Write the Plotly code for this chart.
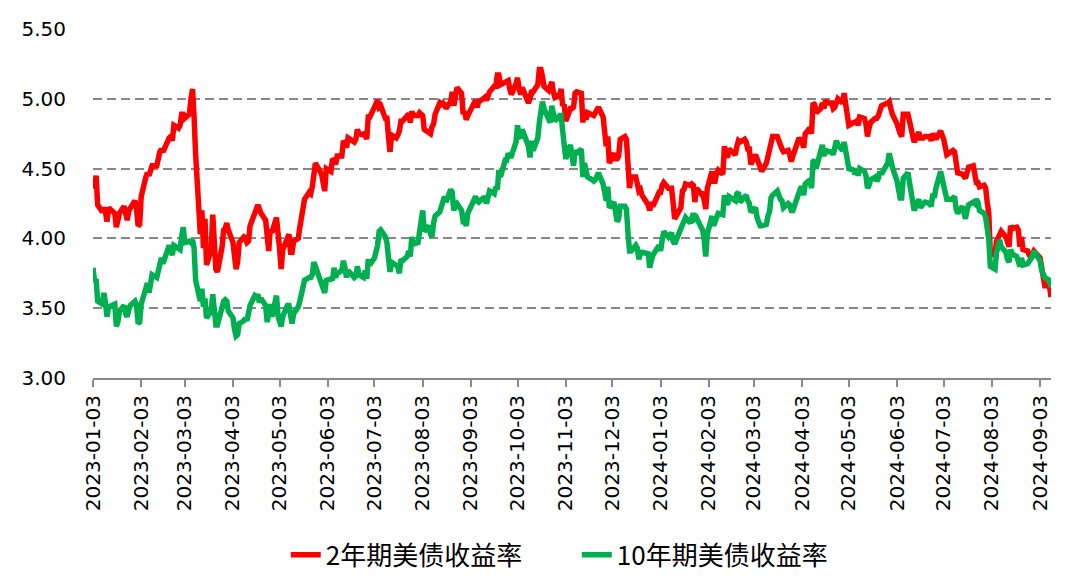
import pandas as pd
import plotly.graph_objects as go

N = None  # market holiday / no observation

# US Treasury yields (%), one row per trading week (Mon..Fri), first week starts Mon 2023-01-02
yield_2y = [
    N, 4.40, 4.36, 4.45, 4.24,
    4.19, 4.22, 4.19, 4.12, 4.22,
    N, 4.18, 4.08, 4.12, 4.18,
    4.23, 4.19, 4.13, 4.20, 4.22,
    4.27, 4.21, 4.09, 4.10, 4.30,
    4.44, 4.47, 4.45, 4.49, 4.52,
    4.52, 4.60, 4.62, 4.64, 4.62,
    N, 4.72, 4.73, 4.70, 4.81,
    4.79, 4.81, 4.89, 4.89, 4.86,
    4.89, 5.00, 5.07, 4.87, 4.60,
    4.03, 4.20, 3.93, 4.14, 3.81,
    3.92, 4.17, 3.94, 3.78, 3.76,
    3.94, 4.06, 4.07, 4.11, 4.06,
    3.97, 3.84, 3.78, 3.83, 3.97,
    4.01, 4.00, 3.97, 3.98, 4.09,
    4.19, 4.20, 4.24, 4.21, 4.18,
    4.13, 3.95, 3.91, 4.07, 4.04,
    4.15, 3.97, 3.92, 3.78, 3.92,
    4.00, 4.03, 3.90, 3.90, 3.98,
    4.00, 4.08, 4.16, 4.26, 4.28,
    4.33, 4.32, 4.37, 4.51, 4.54,
    N, 4.46, 4.40, 4.34, 4.50,
    4.48, 4.57, 4.56, 4.53, 4.59,
    4.59, 4.70, 4.68, 4.65, 4.72,
    N, 4.69, 4.71, 4.78, 4.75,
    4.74, 4.76, 4.71, 4.87, 4.87,
    4.94, N, 4.99, 4.94, 4.95,
    4.86, 4.86, 4.73, 4.62, 4.74,
    4.72, 4.74, 4.77, 4.84, 4.84,
    4.88, 4.89, 4.83, 4.91, 4.88,
    4.88, 4.90, 4.88, 4.88, 4.78,
    4.76, 4.75, 4.80, 4.82, 4.89,
    4.97, 4.96, 4.97, 4.96, 4.93,
    4.98, 5.05, 4.95, 5.02, 5.08,
    5.04, 4.89, 4.91, 4.85, 4.88,
    N, 4.97, 4.99, 4.94, 4.98,
    5.00, 5.01, 4.99, 5.03, 5.05,
    5.09, 5.09, 5.17, 5.17, 5.10,
    5.12, 5.12, 5.13, 5.07, 5.03,
    5.11, 5.15, 5.07, 5.03, 5.08,
    N, 4.97, 5.00, 5.06, 5.05,
    5.10, 5.21, 5.21, 5.16, 5.09,
    5.06, 5.09, 5.12, 5.05, 5.01,
    5.03, 5.07, 4.95, 4.96, 4.84,
    4.93, 4.93, 4.94, 5.04, 5.05,
    5.04, 4.83, 4.92, 4.85, 4.90,
    4.89, 4.88, 4.90, N, 4.94,
    4.87, 4.74, 4.66, 4.73, 4.54,
    4.61, 4.57, 4.57, 4.59, 4.71,
    4.73, 4.71, 4.43, 4.36, 4.44,
    4.44, 4.39, 4.34, 4.35, 4.31,
    N, 4.24, 4.20, 4.26, 4.23,
    N, 4.33, 4.33, 4.38, 4.40,
    4.36, 4.36, 4.36, 4.26, 4.14,
    N, 4.22, 4.34, 4.35, 4.39,
    4.38, 4.39, 4.38, 4.26, 4.36,
    4.32, 4.33, 4.27, 4.21, 4.36,
    4.48, 4.41, 4.41, 4.47, 4.49,
    4.46, 4.66, 4.60, 4.58, 4.64,
    N, 4.60, 4.66, 4.70, 4.69,
    4.71, 4.69, 4.64, 4.64, 4.53,
    4.60, 4.57, 4.55, 4.53, 4.48,
    4.54, 4.58, 4.62, 4.69, 4.73,
    4.73, 4.69, 4.66, 4.64, 4.62,
    4.63, 4.60, 4.55, 4.59, N,
    4.72, 4.70, 4.69, 4.65, 4.75,
    4.79, 4.75, 4.97, 4.96, 4.90,
    4.93, 4.97, 4.93, 4.99, 4.97,
    4.97, 4.93, 4.94, 4.99, 5.00,
    4.97, 5.04, 4.96, 4.90, 4.81,
    4.83, 4.83, 4.84, 4.81, 4.87,
    4.86, 4.82, 4.73, 4.79, 4.83,
    4.86, 4.86, 4.88, 4.94, 4.95,
    N, 4.97, 4.98, 4.93, 4.89,
    4.82, 4.77, 4.75, 4.73, 4.89,
    4.89, 4.83, 4.76, 4.71, 4.69,
    4.76, 4.72, N, 4.72, 4.73,
    4.73, 4.70, 4.75, 4.72, 4.71,
    4.77, 4.74, 4.71, N, 4.60,
    4.62, 4.63, 4.62, 4.51, 4.47,
    4.46, 4.45, 4.43, 4.47, 4.51,
    4.52, 4.43, 4.40, 4.40, 4.37,
    4.38, 4.36, 4.26, 4.18, 3.88,
    3.89, 3.98, 4.00, 4.04, 4.05,
    4.01, 3.96, 3.94, 4.09, 4.07,
    4.08, 4.06, 3.94, 4.01, 3.92,
    3.91, 3.88, 3.87, 3.89, 3.91,
    N, 3.86, 3.77, 3.74, 3.66,
    3.66, 3.58, N, N, N,
]

yield_10y = [
    N, 3.79, 3.69, 3.71, 3.55,
    3.53, 3.61, 3.54, 3.44, 3.51,
    N, 3.53, 3.37, 3.40, 3.48,
    3.52, 3.46, 3.44, 3.49, 3.52,
    3.55, 3.52, 3.39, 3.40, 3.53,
    3.64, 3.68, 3.61, 3.66, 3.74,
    3.72, 3.77, 3.81, 3.86, 3.82,
    N, 3.95, 3.92, 3.88, 3.95,
    3.92, 3.92, 4.01, 4.08, 3.97,
    3.98, 3.97, 3.99, 3.93, 3.70,
    3.55, 3.64, 3.51, 3.57, 3.43,
    3.48, 3.60, 3.48, 3.38, 3.38,
    3.53, 3.55, 3.56, 3.55, 3.48,
    3.43, 3.35, 3.30, 3.31, 3.39,
    3.41, 3.43, 3.41, 3.45, 3.52,
    3.59, 3.58, 3.60, 3.54, 3.57,
    3.52, 3.40, 3.45, 3.53, 3.44,
    3.59, 3.44, 3.40, 3.37, 3.44,
    3.52, 3.52, 3.45, 3.39, 3.46,
    3.51, 3.55, 3.59, 3.65, 3.70,
    3.72, 3.72, 3.74, 3.83, 3.80,
    N, 3.69, 3.64, 3.61, 3.70,
    3.71, 3.70, 3.79, 3.72, 3.75,
    3.77, 3.84, 3.79, 3.72, 3.77,
    N, 3.72, 3.73, 3.80, 3.74,
    3.72, 3.77, 3.71, 3.85, 3.81,
    3.86, N, 3.95, 4.05, 4.06,
    4.01, 3.97, 3.86, 3.76, 3.83,
    3.81, 3.80, 3.75, 3.85, 3.84,
    3.87, 3.91, 3.87, 4.01, 3.96,
    3.97, 4.05, 4.08, 4.20, 4.05,
    4.09, 4.03, 4.01, 4.11, 4.16,
    4.19, 4.22, 4.26, 4.30, 4.26,
    4.35, 4.33, 4.20, 4.24, 4.25,
    4.20, 4.12, 4.12, 4.09, 4.18,
    N, 4.27, 4.30, 4.27, 4.26,
    4.29, 4.29, 4.25, 4.29, 4.34,
    4.32, 4.37, 4.35, 4.49, 4.44,
    4.56, 4.56, 4.61, 4.59, 4.59,
    4.69, 4.81, 4.73, 4.72, 4.78,
    N, 4.66, 4.58, 4.70, 4.63,
    4.72, 4.83, 4.90, 4.98, 4.93,
    4.86, 4.83, 4.95, 4.86, 4.84,
    4.88, 4.88, 4.77, 4.67, 4.57,
    4.67, 4.58, 4.52, 4.63, 4.61,
    4.64, 4.44, 4.54, 4.45, 4.44,
    4.42, 4.41, 4.42, N, 4.47,
    4.39, 4.34, 4.27, 4.37, 4.22,
    4.26, 4.17, 4.12, 4.14, 4.23,
    4.23, 4.21, 4.04, 3.91, 3.91,
    3.95, 3.93, 3.85, 3.89, 3.90,
    N, 3.89, 3.79, 3.84, 3.88,
    N, 3.95, 3.91, 3.99, 4.05,
    4.01, 4.02, 4.04, 3.98, 3.96,
    N, 4.07, 4.10, 4.14, 4.15,
    4.11, 4.14, 4.18, 4.14, 4.15,
    4.08, 4.06, 3.99, 3.87, 4.03,
    4.16, 4.09, 4.12, 4.15, 4.18,
    4.17, 4.31, 4.27, 4.24, 4.30,
    N, 4.27, 4.32, 4.33, 4.26,
    4.30, 4.31, 4.27, 4.25, 4.19,
    4.22, 4.15, 4.12, 4.09, 4.09,
    4.10, 4.16, 4.19, 4.29, 4.31,
    4.34, 4.30, 4.28, 4.27, 4.22,
    4.25, 4.24, 4.20, 4.20, N,
    4.33, 4.36, 4.36, 4.31, 4.39,
    4.42, 4.36, 4.55, 4.56, 4.50,
    4.63, 4.67, 4.59, 4.64, 4.62,
    4.62, 4.60, 4.65, 4.70, 4.67,
    4.63, 4.69, 4.63, 4.59, 4.50,
    4.49, 4.46, 4.49, 4.45, 4.50,
    4.48, 4.45, 4.36, 4.38, 4.42,
    4.44, 4.41, 4.43, 4.48, 4.46,
    N, 4.54, 4.61, 4.55, 4.51,
    4.41, 4.33, 4.29, 4.29, 4.43,
    4.47, 4.40, 4.31, 4.25, 4.20,
    4.28, 4.22, N, 4.25, 4.26,
    4.25, 4.23, 4.32, 4.29, 4.36,
    4.48, 4.43, 4.36, N, 4.28,
    4.28, 4.30, 4.30, 4.21, 4.18,
    4.23, 4.16, 4.14, 4.20, 4.24,
    4.26, 4.25, 4.28, 4.26, 4.20,
    4.18, 4.15, 4.09, 3.99, 3.80,
    3.78, 3.90, 3.96, 3.99, 3.94,
    3.90, 3.85, 3.83, 3.92, 3.89,
    3.87, 3.82, 3.80, 3.86, 3.81,
    3.82, 3.84, 3.84, 3.87, 3.91,
    N, 3.84, 3.77, 3.73, 3.72,
    3.70, 3.65, N, N, N,
]

tick_labels = [
    "2023-01-03", "2023-02-03", "2023-03-03", "2023-04-03", "2023-05-03",
    "2023-06-03", "2023-07-03", "2023-08-03", "2023-09-03", "2023-10-03",
    "2023-11-03", "2023-12-03", "2024-01-03", "2024-02-03", "2024-03-03",
    "2024-04-03", "2024-05-03", "2024-06-03", "2024-07-03", "2024-08-03",
    "2024-09-03",
]

series_names = ["2年期美债收益率", "10年期美债收益率"]

dates = pd.bdate_range("2023-01-02", periods=len(yield_2y))

fig = go.Figure()
fig.add_trace(go.Scatter(x=dates, y=yield_2y, mode="lines", name=series_names[0],
                         line=dict(color="#FF0000", width=5.5), connectgaps=True))
fig.add_trace(go.Scatter(x=dates, y=yield_10y, mode="lines", name=series_names[1],
                         line=dict(color="#00B050", width=5.5), connectgaps=True))

fig.update_layout(
    width=1076, height=584,
    margin=dict(l=93, r=25, t=29, b=206, autoexpand=False),
    plot_bgcolor="white", paper_bgcolor="white",
    font=dict(family="DejaVu Sans", size=20, color="#000000"),
    legend=dict(orientation="h", x=0.505, xanchor="center",
                y=-0.507, yanchor="middle",
                entrywidth=246, entrywidthmode="pixels",
                font=dict(family="Noto Sans CJK SC", size=26, color="#000000")),
)
fig.update_xaxes(
    type="date", range=["2023-01-03", "2024-09-10"],
    tickvals=tick_labels, ticktext=tick_labels, tickangle=-90,
    ticks="outside", ticklen=7, tickwidth=2, tickcolor="#898989",
    showline=True, linecolor="#898989", linewidth=2,
    showgrid=False, zeroline=False,
)
fig.update_yaxes(
    range=[3.0, 5.5], tick0=3.0, dtick=0.5, tickformat=".2f",
    showgrid=True, gridcolor="#878787", gridwidth=2, griddash="9px,5px",
    showline=False, zeroline=False, ticks="", ticklabelstandoff=26,
)

fig.write_html("out.html")
